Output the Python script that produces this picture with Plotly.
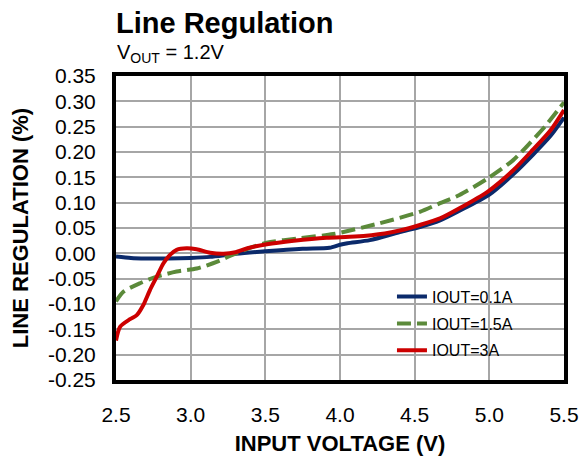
import plotly.graph_objects as go

# ---- data ----
vin_01 = [2.5, 2.6, 2.7, 2.85, 3.0, 3.13, 3.3, 3.5, 3.75, 3.93, 4.0, 4.05, 4.2, 4.4, 4.535, 4.67, 4.8, 5.0, 5.16, 5.29, 5.41, 5.5]
reg_01 = [-0.006, -0.009, -0.010, -0.010, -0.009, -0.007, -0.001, 0.004, 0.009, 0.011, 0.017, 0.020, 0.026, 0.042, 0.052, 0.065, 0.084, 0.116, 0.156, 0.194, 0.232, 0.268]

vin_15 = [2.5, 2.549, 2.66, 2.773, 2.906, 3.04, 3.174, 3.263, 3.38, 3.509, 3.732, 3.955, 4.26, 4.535, 4.67, 4.8, 4.99, 5.16, 5.27, 5.38, 5.5]
reg_15 = [-0.095, -0.076, -0.059, -0.046, -0.036, -0.030, -0.017, -0.005, 0.009, 0.021, 0.030, 0.038, 0.059, 0.082, 0.099, 0.115, 0.148, 0.184, 0.217, 0.253, 0.298]

vin_3 = [2.5, 2.527, 2.594, 2.639, 2.683, 2.728, 2.773, 2.817, 2.862, 2.906, 2.973, 3.04, 3.13, 3.22, 3.3, 3.38, 3.51, 3.69, 3.91, 4.1, 4.3, 4.4, 4.535, 4.67, 4.8, 4.99, 5.16, 5.29, 5.41, 5.5]
reg_3 = [-0.172, -0.145, -0.130, -0.122, -0.102, -0.072, -0.046, -0.020, -0.003, 0.007, 0.010, 0.008, 0.001, -0.001, 0.002, 0.010, 0.018, 0.025, 0.031, 0.033, 0.039, 0.045, 0.056, 0.069, 0.089, 0.122, 0.164, 0.204, 0.243, 0.283]

x_ticks = [2.5, 3.0, 3.5, 4.0, 4.5, 5.0, 5.5]
x_labels = ["2.5", "3.0", "3.5", "4.0", "4.5", "5.0", "5.5"]
y_ticks = [0.35, 0.30, 0.25, 0.20, 0.15, 0.10, 0.05, 0.0, -0.05, -0.10, -0.15, -0.20, -0.25]
y_labels = ["0.35", "0.30", "0.25", "0.20", "0.15", "0.10", "0.05", "0.00", "-0.05", "-0.10", "-0.15", "-0.20", "-0.25"]

FONT = "Liberation Sans, Arial, sans-serif"

fig = go.Figure()
fig.add_trace(go.Scatter(x=vin_01, y=reg_01, mode="lines", name="IOUT=0.1A", legendgroup="a",
                         line=dict(color="#0b2a6b", width=4, shape="spline", smoothing=0.7)))
fig.add_trace(go.Scatter(x=vin_15, y=reg_15, mode="lines", name="IOUT=1.5A", legendgroup="b",
                         line=dict(color="#5b8a3a", width=4, dash="14px,6px", shape="spline", smoothing=0.7)))
fig.add_trace(go.Scatter(x=vin_3, y=reg_3, mode="lines", name="IOUT=3A", legendgroup="c",
                         line=dict(color="#cc0000", width=4, shape="spline", smoothing=0.7)))

fig.update_layout(
    width=586, height=456,
    margin=dict(l=116, r=22, t=76, b=76),
    paper_bgcolor="white", plot_bgcolor="white",
    font=dict(family=FONT, color="black"),
    showlegend=True,
    legend=dict(x=0.616, y=0.33, xanchor="left", yanchor="top",
                bgcolor="rgba(0,0,0,0)", font=dict(size=16, family=FONT),
                tracegroupgap=3),
    shapes=[dict(type="rect", xref="paper", yref="paper", x0=0.44, x1=0.97, y0=0.05, y1=0.32,
                 fillcolor="white", line=dict(width=0), layer="between")],
    annotations=[
        dict(text="<b>Line Regulation</b>", xref="paper", yref="paper", x=-0.005, y=1.175,
             xanchor="left", yanchor="middle", showarrow=False, font=dict(size=29, family=FONT)),
        dict(text="V<sub>OUT</sub> = 1.2V", xref="paper", yref="paper", x=-0.003, y=1.075,
             xanchor="left", yanchor="middle", showarrow=False, font=dict(size=20, family=FONT)),
    ],
)
fig.update_xaxes(range=[2.5, 5.5], tickvals=x_ticks, ticktext=x_labels, automargin=False,
                 showgrid=True, gridcolor="#a6a6a6", gridwidth=1.5,
                 showline=True, linecolor="black", linewidth=4, mirror=True,
                 ticks="", ticklabelstandoff=13, zeroline=False,
                 tickfont=dict(size=21, family=FONT),
                 title=dict(text="<b>INPUT VOLTAGE (V)</b>", font=dict(size=22, family=FONT), standoff=12))
fig.update_yaxes(range=[-0.25, 0.35], tickvals=y_ticks, ticktext=y_labels, automargin=False,
                 showgrid=True, gridcolor="#a6a6a6", gridwidth=1.5,
                 showline=True, linecolor="black", linewidth=4, mirror=True,
                 ticks="", ticklabelstandoff=12, zeroline=False,
                 tickfont=dict(size=21, family=FONT),
                 title=dict(text="<b>LINE REGULATION (%)</b>", font=dict(size=22, family=FONT), standoff=14))

fig.write_html("out.html", config={"displayModeBar": False},
               post_script="document.body.style.margin='0';document.body.style.padding='0';")
